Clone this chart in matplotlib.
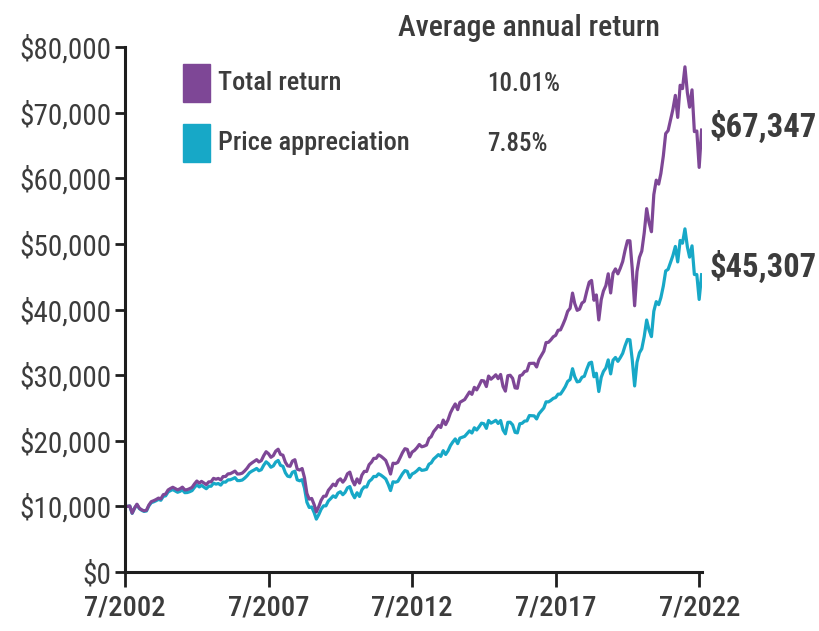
import pandas as pd
import matplotlib
matplotlib.use("Agg")
from matplotlib import pyplot as plt
from matplotlib import font_manager
from matplotlib.patches import Rectangle

# valor de 10.000 $ invertidos a fin de julio de 2002 (en miles), fin de cada mes
precio = [
    10.00, 10.05, 8.94, 9.72, 10.27, 9.65,
    9.39, 9.23, 9.30, 10.06, 10.57, 10.69, 10.86, 11.06, 10.93, 11.53, 11.61, 12.20,
    12.41, 12.56, 12.35, 12.15, 12.29, 12.51, 12.09, 12.11, 12.23, 12.40, 12.88, 13.29,
    12.96, 13.20, 12.95, 12.69, 13.07, 13.07, 13.54, 13.39, 13.48, 13.24, 13.71, 13.69,
    14.04, 14.05, 14.20, 14.38, 13.93, 13.93, 14.01, 14.30, 14.65, 15.12, 15.36, 15.56,
    15.78, 15.43, 15.59, 16.26, 16.79, 16.49, 15.96, 16.17, 16.75, 17.00, 16.25, 16.11,
    15.12, 14.60, 14.51, 15.20, 15.36, 14.04, 13.90, 14.07, 12.80, 10.63, 9.83, 9.91,
    9.06, 8.06, 8.75, 9.57, 10.08, 10.08, 10.83, 11.20, 11.60, 11.37, 12.02, 12.23,
    11.78, 12.12, 12.83, 13.02, 11.95, 11.31, 12.08, 11.51, 12.52, 12.98, 12.95, 13.80,
    14.11, 14.56, 14.54, 14.96, 14.76, 14.49, 14.18, 13.37, 12.41, 13.75, 13.68, 13.80,
    14.40, 14.98, 15.45, 15.33, 14.37, 14.94, 15.13, 15.43, 15.80, 15.49, 15.54, 15.65,
    16.43, 16.62, 17.21, 17.53, 17.89, 17.62, 18.49, 17.91, 18.45, 19.27, 19.81, 20.28,
    19.56, 20.40, 20.54, 20.67, 21.10, 21.50, 21.18, 21.98, 21.64, 22.14, 22.68, 22.59,
    21.89, 23.09, 22.68, 22.88, 23.12, 22.63, 23.08, 21.64, 21.06, 22.81, 22.82, 22.42,
    21.28, 21.20, 22.59, 22.66, 23.00, 23.03, 23.84, 23.81, 23.79, 23.32, 24.12, 24.56,
    25.00, 25.93, 25.92, 26.15, 26.46, 26.58, 27.10, 27.11, 27.64, 28.25, 29.04, 29.33,
    30.98, 29.77, 28.97, 29.05, 29.68, 29.82, 30.89, 31.83, 31.97, 29.75, 30.28, 27.50,
    29.66, 30.55, 31.09, 32.32, 30.19, 32.27, 32.69, 32.10, 32.65, 33.32, 34.46, 35.44,
    35.38, 32.41, 28.35, 31.95, 33.40, 34.01, 35.88, 38.40, 36.89, 35.87, 39.73, 41.20,
    40.74, 41.81, 43.58, 45.87, 46.12, 47.14, 48.22, 49.61, 47.25, 50.52, 50.10, 52.29,
    49.54, 47.98, 49.70, 45.33, 45.33, 41.53, 45.31,
]
total = [
    10.00, 10.06, 8.97, 9.76, 10.33, 9.72,
    9.47, 9.32, 9.41, 10.19, 10.72, 10.86, 11.04, 11.26, 11.15, 11.78, 11.88, 12.50,
    12.73, 12.91, 12.71, 12.52, 12.68, 12.93, 12.51, 12.55, 12.70, 12.89, 13.41, 13.86,
    13.54, 13.81, 13.57, 13.32, 13.73, 13.75, 14.27, 14.14, 14.26, 14.03, 14.55, 14.55,
    14.95, 14.98, 15.17, 15.38, 14.93, 14.95, 15.06, 15.40, 15.80, 16.33, 16.61, 16.86,
    17.12, 16.77, 16.97, 17.72, 18.33, 18.03, 17.48, 17.74, 18.41, 18.71, 17.92, 17.80,
    16.73, 16.18, 16.11, 16.91, 17.11, 15.67, 15.54, 15.77, 14.38, 11.97, 11.10, 11.21,
    10.27, 9.16, 9.97, 10.93, 11.54, 11.56, 12.45, 12.90, 13.39, 13.15, 13.92, 14.19,
    13.69, 14.11, 14.97, 15.22, 13.99, 13.27, 14.19, 13.55, 14.76, 15.33, 15.32, 16.35,
    16.75, 17.31, 17.32, 17.85, 17.64, 17.34, 17.00, 16.06, 14.93, 16.58, 16.52, 16.70,
    17.45, 18.19, 18.79, 18.68, 17.54, 18.27, 18.53, 18.94, 19.43, 19.08, 19.18, 19.35,
    20.35, 20.62, 21.39, 21.83, 22.32, 22.02, 23.15, 22.46, 23.18, 24.25, 24.97, 25.61,
    24.74, 25.85, 26.07, 26.28, 26.87, 27.43, 27.07, 28.14, 27.75, 28.44, 29.18, 29.11,
    28.26, 29.86, 29.38, 29.69, 30.05, 29.46, 30.10, 28.27, 27.56, 29.91, 29.98, 29.51,
    28.06, 28.00, 29.90, 30.04, 30.55, 30.64, 31.78, 31.79, 31.81, 31.24, 32.36, 33.00,
    33.65, 34.96, 35.00, 35.37, 35.85, 36.06, 36.83, 36.90, 37.68, 38.58, 39.72, 40.18,
    42.50, 40.91, 39.87, 40.05, 40.98, 41.24, 42.78, 44.16, 44.43, 41.41, 42.22, 38.41,
    41.49, 42.81, 43.64, 45.44, 42.52, 45.52, 46.19, 45.43, 46.28, 47.31, 49.00, 50.48,
    50.47, 46.31, 40.57, 45.79, 47.95, 48.90, 51.67, 55.37, 53.26, 51.85, 57.50, 59.71,
    59.11, 60.74, 63.40, 66.81, 67.26, 68.83, 70.50, 72.63, 69.27, 74.17, 73.66, 76.98,
    73.03, 70.83, 73.47, 67.11, 67.20, 61.65, 67.35,
]
fechas = pd.date_range("2002-07-31", periods=len(total), freq="ME")

etiquetas_x = ["7/2002", "7/2007", "7/2012", "7/2017", "7/2022"]
ticks_x = pd.to_datetime(["2002-07-01", "2007-07-01", "2012-07-01", "2017-07-01", "2022-07-01"])
ticks_y = [0, 10000, 20000, 30000, 40000, 50000, 60000, 70000, 80000]

series = ["Total return", "Price appreciation"]
rentabilidad = ["10.01%", "7.85%"]
finales = ["$67,347", "$45,307"]

morado = "#7e4796"
turquesa = "#17a8c7"
gris = "#3c3c3c"

# fuente estrecha si la hay, si no Roboto
instaladas = {f.name for f in font_manager.fontManager.ttflist}
estrecha = next((n for n in ["Roboto Condensed", "Liberation Sans Narrow", "Open Sans Condensed"]
                 if n in instaladas), None)
if estrecha:
    plt.rcParams["font.family"] = [estrecha, "DejaVu Sans"]
    k = 1.0
else:
    plt.rcParams["font.family"] = ["Roboto", "DejaVu Sans"]
    k = 0.9

W, H = 820, 631
fig = plt.figure(figsize=(W / 100, H / 100), dpi=100)
ax = fig.add_axes([125 / W, 59 / H, 577 / W, 525 / H])

precio_usd = [v * 1000 for v in precio]
total_usd = [v * 1000 for v in total]
ax.plot(fechas, precio_usd, color=turquesa, lw=2.3, solid_joinstyle="round")
ax.plot(fechas, total_usd, color=morado, lw=2.3, solid_joinstyle="round")

ax.set_ylim(0, 80000)
ax.set_xlim(pd.Timestamp("2002-07-01"), pd.Timestamp("2022-08-05"))
ax.set_yticks(ticks_y)
ax.set_yticklabels([f"${v:,.0f}" for v in ticks_y])
ax.set_xticks(ticks_x)
ax.set_xticklabels(etiquetas_x, fontweight="medium")
for s in ["top", "right"]:
    ax.spines[s].set_visible(False)
for s in ["left", "bottom"]:
    ax.spines[s].set_linewidth(2.2)
    ax.spines[s].set_color("#1e1e1e")
ax.tick_params(axis="y", length=7, width=2, color="#1e1e1e", pad=3, labelsize=21 * k, labelcolor=gris)
ax.tick_params(axis="x", length=11, width=2, color="#1e1e1e", pad=5, labelsize=20.5 * k, labelcolor=gris)

# leyenda y textos
def fx(x):
    return x / W

def fy(y):
    return 1 - y / H

fig.text(fx(398), fy(28), "Average annual return", fontsize=21.5 * k, color=gris, va="center", fontweight="medium")
colores = [morado, turquesa]
filas = [83, 143]
for nombre, pct, col, yc in zip(series, rentabilidad, colores, filas):
    fig.patches.append(Rectangle((fx(183), fy(yc + 19)), 27 / W, 38 / H,
                                 transform=fig.transFigure, color=col, figure=fig))
    fig.text(fx(218), fy(yc), nombre, fontsize=19 * k, color=gris, va="center", fontweight="medium")
    fig.text(fx(487), fy(yc + 1), pct, fontsize=18 * k, color=gris, va="center", fontweight="medium")

for texto, serie, dy in zip(finales, [total_usd, precio_usd], [2, 5]):
    ax.annotate(texto, xy=(fechas[-1], serie[-1]), xytext=(6, dy), textcoords="offset points",
                fontsize=23.5 * k, fontweight="bold", color=gris, va="center", annotation_clip=False)

fig.savefig("out.png", dpi=100)
plt.close(fig)
